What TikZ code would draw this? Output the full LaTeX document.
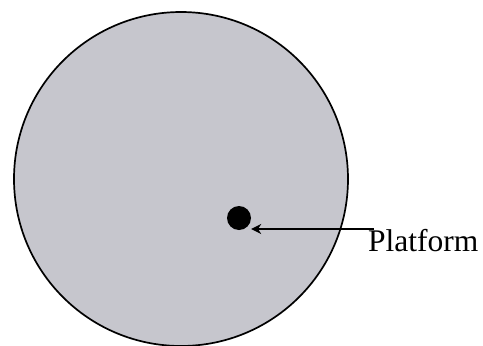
\documentclass[tikz,border=0pt]{standalone}
\usepackage{fontspec}
\setmainfont{Liberation Serif}
\usetikzlibrary{arrows.meta}
\definecolor{discgray}{RGB}{198,198,205}
\tikzset{
  disc/.style={circle, draw=black, line width=1.7pt, fill=discgray, minimum size=334pt, inner sep=0pt},
  platdot/.style={circle, fill=black, minimum size=24pt, inner sep=0pt},
  pointer/.style={-{Stealth[length=10pt,width=10pt]}, line width=1.4pt},
  lbl/.style={font=\fontsize{31.5}{36}\selectfont, inner sep=0pt, anchor=north west}
}
\begin{document}
\begin{tikzpicture}[x=1pt,y=-1pt]
\useasboundingbox (0,0) rectangle (483,346);
\node[disc] (disc) at (181,179) {};
\node[platdot] (plat) at (239,218) {};
\node[lbl] (label) at (368,229) {Platform};
\coordinate (lineend) at (374,229);
\draw[pointer] (lineend) -- (lineend -| plat.east);
\end{tikzpicture}
\end{document}
